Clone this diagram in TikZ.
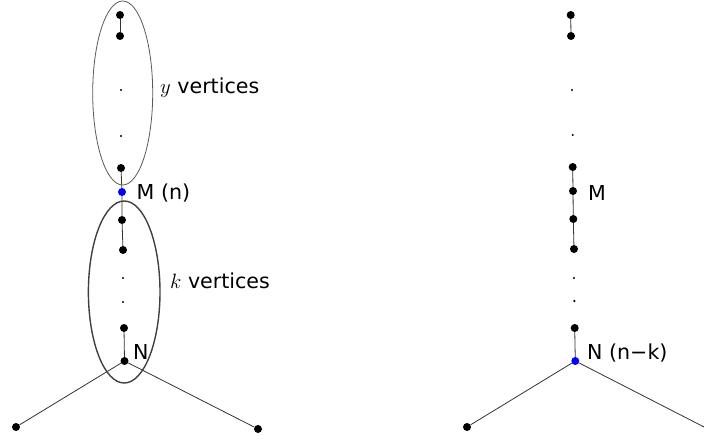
\documentclass[tikz,border=0pt]{standalone}
\usepackage{fontspec}
\setmainfont{DejaVu Sans}
\usetikzlibrary{positioning}

\begin{document}
\begin{tikzpicture}[x=1pt,y=-1pt,
	font=\fontsize{20.6}{24}\selectfont,
	vtx/.style={circle,fill=black,inner sep=0pt,minimum size=8pt},
	spec/.style={vtx,fill=blue},
	gap/.style={circle,fill=black,inner sep=0pt,minimum size=2.4pt},
	edge/.style={draw=black!80,line width=0.8pt},
	lbl/.style={anchor=west,inner sep=0pt}]
	\useasboundingbox (0,0) rectangle (704,439);

	% Left tree: path with the two groups circled
	\begin{scope}
		% Upper group (y vertices)
		\node[vtx] (a1) at (120,15) {};
		\node[vtx] (a2) at (120,36) {};
		\node[gap] (ad1) at (121,90) {};
		\node[gap] (ad2) at (121,136) {};
		\node[vtx] (a3) at (121,168) {};
		% The vertex M
		\node[spec] (M) at (122,192) {};
		% Lower group (k vertices)
		\node[vtx] (b1) at (122,220) {};
		\node[vtx] (b2) at (123,250) {};
		\node[gap] (bd1) at (123,278) {};
		\node[gap] (bd2) at (123,302) {};
		\node[vtx] (b3) at (124,328) {};
		% The vertex N and the two leaves
		\node[vtx] (N) at (124.5,361) {};
		\node[vtx] (lf1) at (16,427) {};
		\node[vtx] (lf2) at (258,429) {};

		\draw[edge] (a1) -- (a2);
		\draw[edge] (a3) -- (M) -- (b1) -- (b2);
		\draw[edge] (b3) -- (N);
		\draw[edge] (N) -- (lf1);
		\draw[edge] (N) -- (lf2);

		% The two ellipses
		\draw[black!65,line width=0.8pt] (122.7,93) ellipse[x radius=30,y radius=92];
		\draw[black!75,line width=1.4pt] (124.2,292) ellipse[x radius=35.8,y radius=91];

		% Labels
		\node[lbl] (ylab) at (160,88) {$y$ vertices};
		\node[lbl] (klab) at (170,281) {$k$ vertices};
		\node[lbl] (Mlab) at (136.5,193) {M (n)};
		\node[lbl] (Nlab) at (133,352) {N};
	\end{scope}

	% Right tree: the same path, N now the special vertex
	\begin{scope}
		\node[vtx] (c1) at (570.7,15) {};
		\node[vtx] (c2) at (571,36) {};
		\node[gap] (cd1) at (572,90) {};
		\node[gap] (cd2) at (572.7,135) {};
		\node[vtx] (c3) at (572.7,167) {};
		\node[vtx] (Mr) at (573,191) {};
		\node[vtx] (c4) at (573.3,219) {};
		\node[vtx] (c5) at (574,249) {};
		\node[gap] (cd3) at (574,278) {};
		\node[gap] (cd4) at (574.3,301) {};
		\node[vtx] (c6) at (574.7,328) {};
		\node[spec] (Nr) at (575.3,361) {};
		\node[vtx] (lf3) at (467,427) {};
		\coordinate (lf4) at (708,429);

		\draw[edge] (c1) -- (c2);
		\draw[edge] (c3) -- (Mr) -- (c4) -- (c5);
		\draw[edge] (c6) -- (Nr);
		\draw[edge] (Nr) -- (lf3);
		\draw[edge] (Nr) -- (lf4);

		% Labels
		\node[lbl] (Mrlab) at (588,193) {M};
		\node[lbl] (Nrlab) at (587,353) {N (n−k)};
	\end{scope}
\end{tikzpicture}
\end{document}
